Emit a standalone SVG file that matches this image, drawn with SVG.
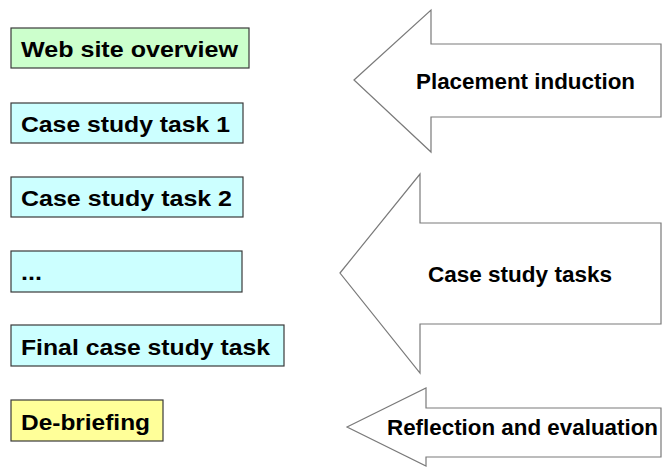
<svg xmlns="http://www.w3.org/2000/svg" width="663" height="467" viewBox="0 0 663 467">
  <style>
    .box { stroke: #3a3a3a; stroke-width: 1.2; }
    .green { fill: #ccffcc; }
    .cyan { fill: #ccffff; }
    .yellow { fill: #ffff99; }
    .arrow { fill: #ffffff; stroke: #7a7a7a; stroke-width: 1.2; stroke-linejoin: miter; }
    text { font-family: "Liberation Sans", Arial, sans-serif; font-weight: bold; fill: #000000; }
    .lbl { font-size: 22px; }
    .alb { font-size: 22.5px; }
  </style>

  <!-- Activity boxes -->
  <g id="web-site-overview">
    <rect class="box green" x="11" y="28" width="238" height="40"/>
    <text class="lbl" x="21" y="57" textLength="217" lengthAdjust="spacingAndGlyphs">Web site overview</text>
  </g>
  <g id="case-study-task-1">
    <rect class="box cyan" x="11" y="103" width="232" height="40"/>
    <text class="lbl" x="21" y="132" textLength="209" lengthAdjust="spacingAndGlyphs">Case study task 1</text>
  </g>
  <g id="case-study-task-2">
    <rect class="box cyan" x="11" y="177" width="232" height="40"/>
    <text class="lbl" x="21" y="206" textLength="211" lengthAdjust="spacingAndGlyphs">Case study task 2</text>
  </g>
  <g id="ellipsis-task">
    <rect class="box cyan" x="11" y="251" width="231" height="41"/>
    <text class="lbl" x="21" y="280" textLength="21" lengthAdjust="spacingAndGlyphs">...</text>
  </g>
  <g id="final-case-study-task">
    <rect class="box cyan" x="11" y="325" width="273" height="41"/>
    <text class="lbl" x="21" y="355" textLength="249" lengthAdjust="spacingAndGlyphs">Final case study task</text>
  </g>
  <g id="de-briefing">
    <rect class="box yellow" x="11" y="400" width="152" height="41"/>
    <text class="lbl" x="21" y="430" textLength="129" lengthAdjust="spacingAndGlyphs">De-briefing</text>
  </g>

  <!-- Phase arrows -->
  <g id="placement-induction">
    <polygon class="arrow" points="354,80 431,10 431,44 661,44 661,117 431,117 431,152"/>
    <text class="alb" x="416" y="89" textLength="219" lengthAdjust="spacingAndGlyphs">Placement induction</text>
  </g>
  <g id="case-study-tasks">
    <polygon class="arrow" points="340,273 420,174 420,223 661,223 661,324 420,324 420,373"/>
    <text class="alb" x="428" y="282" textLength="184" lengthAdjust="spacingAndGlyphs">Case study tasks</text>
  </g>
  <g id="reflection-and-evaluation">
    <polygon class="arrow" points="347,427 426,388 426,408 661,408 661,457 426,457 426,466"/>
    <text class="alb" x="387" y="435" textLength="271" lengthAdjust="spacingAndGlyphs">Reflection and evaluation</text>
  </g>
</svg>
